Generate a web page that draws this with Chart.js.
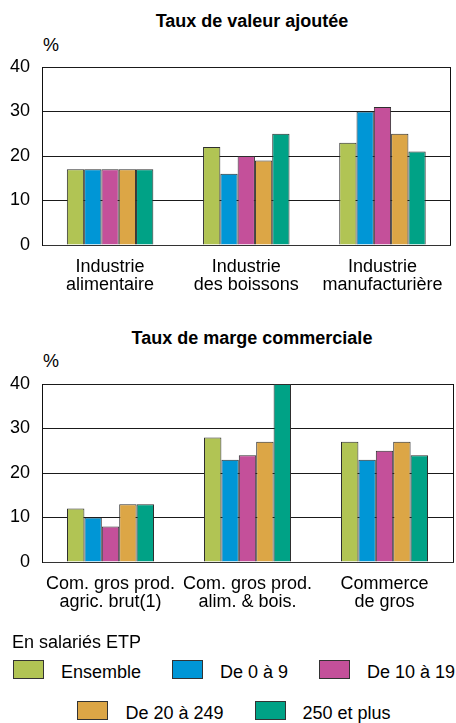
<!DOCTYPE html>
<html><head><meta charset="utf-8">
<script src="https://cdn.jsdelivr.net/npm/chart.js@4"></script>
<style>
html,body{margin:0;padding:0;background:#fff;width:456px;height:723px;overflow:hidden;position:relative;font-family:"Liberation Sans",Arial,sans-serif;color:#000}
.t{position:absolute;left:0;width:504px;text-align:center;font-weight:bold;font-size:18px;line-height:20px;white-space:nowrap}
.pct{position:absolute;left:43px;font-size:18px;line-height:20px}
canvas{position:absolute;left:0}
.lt{position:absolute;left:12px;top:632px;font-size:18px;line-height:20px;white-space:nowrap}
.row{position:absolute;left:0;width:468px;display:flex;justify-content:center;align-items:flex-start}
.item{display:flex;align-items:flex-start;margin:0 15.5px}
.box{width:31px;height:19px;box-sizing:border-box;border:1px solid #333;margin-right:17px}
.lab{font-size:18px;line-height:20px;margin-top:2px;white-space:nowrap}
</style>
</head><body>
<div class="t" style="top:11px">Taux de valeur ajoutée</div>
<div class="pct" style="top:35px">%</div>
<canvas id="c1" width="456" height="317" style="top:0"></canvas>
<div class="t" style="top:328px">Taux de marge commerciale</div>
<div class="pct" style="top:351px">%</div>
<canvas id="c2" width="456" height="317" style="top:317px"></canvas>
<div class="lt">En salariés ETP</div>
<div class="row" id="row1" style="top:660px"></div>
<div class="row" id="row2" style="top:701px"></div>
<script>
const seriesNames = ['Ensemble', 'De 0 à 9', 'De 10 à 19', 'De 20 à 249', '250 et plus'];
const seriesColors = ['#b1c454', '#0096d6', '#c4509a', '#dca646', '#00a286'];

const categoriesVA = [['Industrie', 'alimentaire'], ['Industrie', 'des boissons'], ['Industrie', 'manufacturière']];
const ensembleVA = [17, 22, 23];
const de0a9VA = [17, 16, 30];
const de10a19VA = [17, 20, 31];
const de20a249VA = [17, 19, 25];
const plus250VA = [17, 25, 21];

const categoriesMC = [['Com. gros prod.', 'agric. brut(1)'], ['Com. gros prod.', 'alim. & bois.'], ['Commerce', 'de gros']];
const ensembleMC = [12, 28, 27];
const de0a9MC = [10, 23, 23];
const de10a19MC = [8, 24, 25];
const de20a249MC = [13, 27, 27];
const plus250MC = [13, 40, 24];

const yTicks = [0, 10, 20, 30, 40];

const FONT = '"Liberation Sans", Arial, sans-serif';

function makeChart(id, labels, seriesData) {
  const datasets = seriesData.map((d, i) => ({
    label: seriesNames[i],
    data: d,
    backgroundColor: seriesColors[i],
    borderColor: '#2e2e2e',
    borderWidth: 1,
    borderSkipped: 'start',
    categoryPercentage: 0.635,
    barPercentage: 1.0
  }));
  return new Chart(document.getElementById(id), {
    type: 'bar',
    data: { labels: labels, datasets: datasets },
    options: {
      responsive: false,
      animation: false,
      devicePixelRatio: 1,
      layout: { padding: { top: 67, left: 0, right: 3, bottom: 12 } },
      plugins: { legend: { display: false }, tooltip: { enabled: false }, title: { display: false } },
      scales: {
        x: {
          afterFit: s => { s.height = 60; },
          grid: {
            display: true,
            drawTicks: false,
            offset: true,
            color: c => (c.type === 'tick' ? 'rgba(0,0,0,0)' : '#111'),
            lineWidth: 1
          },
          border: { display: true, color: '#333', width: 1 },
          ticks: {
            color: '#000',
            padding: 13,
            font: { family: FONT, size: 18, lineHeight: 1.0 },
            maxRotation: 0,
            autoSkip: false
          }
        },
        y: {
          min: yTicks[0],
          max: yTicks[yTicks.length - 1],
          afterFit: s => { s.width = 42; },
          afterBuildTicks: s => { s.ticks = yTicks.map(v => ({ value: v })); },
          grid: { color: '#1a1a1a', drawTicks: false, lineWidth: 1 },
          border: { display: true, color: '#111', width: 1 },
          ticks: {
            color: '#000',
            padding: 12,
            font: { family: FONT, size: 18 }
          }
        }
      }
    }
  });
}

makeChart('c1', categoriesVA, [ensembleVA, de0a9VA, de10a19VA, de20a249VA, plus250VA]);
makeChart('c2', categoriesMC, [ensembleMC, de0a9MC, de10a19MC, de20a249MC, plus250MC]);

// HTML legend built from series arrays
const rows = [document.getElementById('row1'), document.getElementById('row2')];
seriesNames.forEach((name, i) => {
  const item = document.createElement('div');
  item.className = 'item';
  const box = document.createElement('div');
  box.className = 'box';
  box.style.background = seriesColors[i];
  const lab = document.createElement('div');
  lab.className = 'lab';
  lab.textContent = name;
  item.appendChild(box);
  item.appendChild(lab);
  rows[i < 3 ? 0 : 1].appendChild(item);
});
</script>
</body></html>
